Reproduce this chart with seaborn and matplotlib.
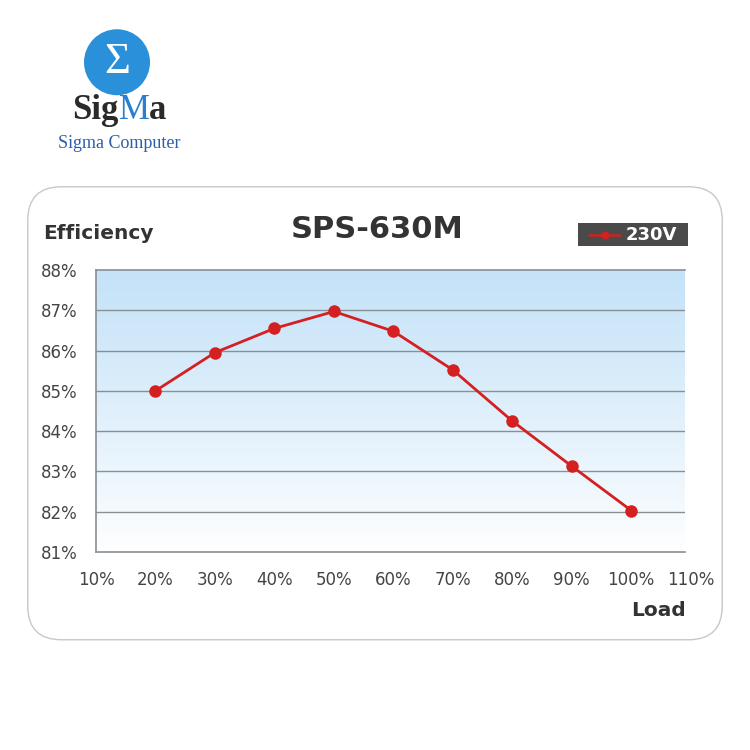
import matplotlib
matplotlib.use("Agg")
import matplotlib.pyplot as plt
from matplotlib.patches import FancyBboxPatch, Circle, Rectangle
from matplotlib.lines import Line2D
import seaborn as sns
import numpy as np
import pandas as pd

# data
load = [20, 30, 40, 50, 60, 70, 80, 90, 100]
efficiency = [85.0, 85.95, 86.55, 86.97, 86.48, 85.52, 84.25, 83.13, 82.03]
x_ticks = [10, 20, 30, 40, 50, 60, 70, 80, 90, 100]
x_last = 110  # label drawn just past the end of the axis
y_ticks = [81, 82, 83, 84, 85, 86, 87, 88]

df = pd.DataFrame({"Load": load, "Efficiency": efficiency})

sns.set_style("white")
plt.rcParams['font.family'] = ['DejaVu Sans']

fig = plt.figure(figsize=(7.5, 7.5), dpi=100)

# rounded frame (behind the axes)
frame = FancyBboxPatch((0.037 + 0.045, 0.147 + 0.045), 0.926 - 0.09, 0.604 - 0.09,
                       boxstyle="round,pad=0.045", transform=fig.transFigure,
                       facecolor="white", edgecolor="#c8c8c8", linewidth=1.0, zorder=-5)
fig.patches.append(frame)

ax = fig.add_axes([0.128, 0.264, 0.785, 0.376])
ax.patch.set_alpha(0)

# blue gradient background
grad = np.linspace(0, 1, 256).reshape(-1, 1) * np.ones((1, 32))
top = np.array([196, 226, 248]) / 255
bot = np.array([255, 255, 255]) / 255
img = bot + (top - bot) * grad[:, :, None] ** 0.9
ax.imshow(img, extent=[10, 109, 81, 88], origin="lower", aspect="auto", zorder=0,
          interpolation="bilinear")

for y in y_ticks[1:-1]:
    ax.axhline(y, color="#8a8f94", linewidth=1.0, zorder=1)

sns.lineplot(data=df, x="Load", y="Efficiency", ax=ax, color="#d42020",
             linewidth=2.0, marker="o", markersize=9, markeredgewidth=0, zorder=3)

ax.set_xticks(x_ticks)
ax.set_xticklabels([f"{v}%" for v in x_ticks])
ax.set_yticks(y_ticks)
ax.set_yticklabels([f"{v}%" for v in y_ticks])
ax.set_xlim(10, 109)
ax.set_ylim(81, 88)
ax.tick_params(axis="x", direction="in", length=8, color="#8a8f94", pad=14,
               labelsize=12, labelcolor="#444444")
ax.tick_params(axis="y", length=0, pad=13, labelsize=12, labelcolor="#444444")
ax.annotate(f"{x_last}%", xy=(x_last, 0), xycoords=ax.get_xaxis_transform(),
            xytext=(0, -14), textcoords="offset points", ha="center", va="top",
            fontsize=12, color="#444444", annotation_clip=False)
ax.set_xlabel("")
ax.set_ylabel("")
for s in ["top", "left", "bottom"]:
    ax.spines[s].set_color("#8a8f94")
    ax.spines[s].set_linewidth(1.2)
ax.spines["right"].set_visible(False)

# titles and labels
fig.text(0.503, 0.694, "SPS-630M", ha="center", va="center", fontsize=22,
         fontweight="bold", color="#333333")
fig.text(0.058, 0.689, "Efficiency", ha="left", va="center", fontsize=14.5,
         fontweight="bold", color="#333333")
fig.text(0.914, 0.186, "Load", ha="right", va="center", fontsize=14.5,
         fontweight="bold", color="#333333")

# legend box
fig.patches.append(Rectangle((0.771, 0.672), 0.146, 0.03, transform=fig.transFigure,
                             facecolor="#4a4a4a", edgecolor="none"))
fig.lines.append(Line2D([0.785, 0.827], [0.687, 0.687], transform=fig.transFigure,
                        color="#d42020", linewidth=1.8))
fig.lines.append(Line2D([0.806], [0.687], transform=fig.transFigure, color="#d42020",
                        marker="o", markersize=5, linestyle="none"))
fig.text(0.869, 0.687, "230V", ha="center", va="center", fontsize=13,
         fontweight="bold", color="white")

# logo
fig.patches.append(Circle((0.156, 0.917), 0.044, transform=fig.transFigure,
                          facecolor="#2b90da", edgecolor="none"))
fig.text(0.156, 0.917, "\u03a3", ha="center", va="center", fontsize=32,
         color="white", family=["Liberation Serif"])
fig.text(0.158, 0.853, "Sig", ha="right", va="center", fontsize=25, fontweight="bold",
         color="#2a2a2a", family=["Liberation Serif"])
fig.text(0.179, 0.853, "M", ha="center", va="center", fontsize=25,
         color="#2b7fd0", family=["Liberation Serif"])
fig.text(0.199, 0.853, "a", ha="left", va="center", fontsize=25, fontweight="bold",
         color="#2a2a2a", family=["Liberation Serif"])
fig.text(0.159, 0.809, "Sigma Computer", ha="center", va="center", fontsize=13,
         color="#2b5ea8", family=["Liberation Serif"])

fig.savefig("out.png", dpi=100, facecolor="white")
